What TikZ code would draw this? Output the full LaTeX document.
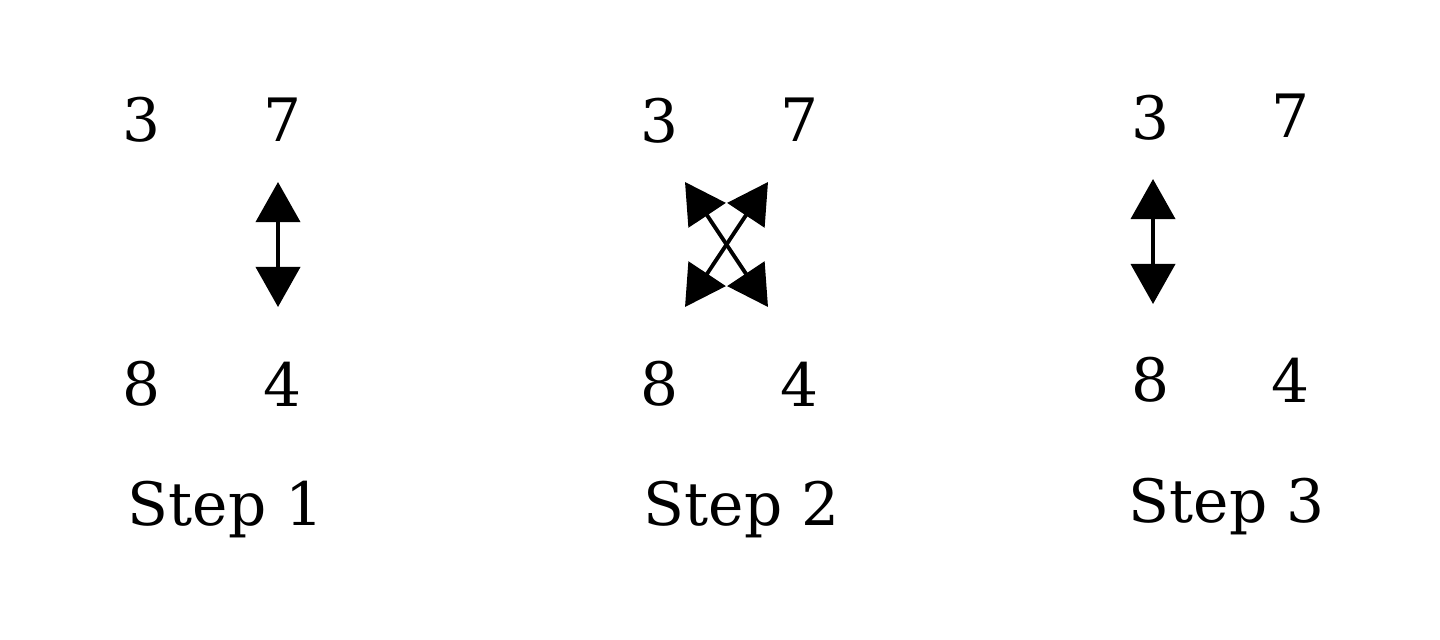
\documentclass[tikz,border=0pt]{standalone}
\usepackage{fontspec}
\setmainfont{DejaVu Serif}
\usetikzlibrary{arrows.meta}
\begin{document}
\begin{tikzpicture}[x=0.01cm,y=-0.01cm,
  num/.style={inner sep=0pt,font=\fontsize{17}{20}\selectfont},
  lab/.style={inner sep=0pt,anchor=base west,font=\fontsize{17}{20}\selectfont},
  swap/.style={line width=1.1pt,{Triangle[length=0.4cm,width=0.44cm]}-{Triangle[length=0.4cm,width=0.44cm]}}]
\useasboundingbox (0,0) rectangle (1440,639);
% Step 1
\node[num] (a3) at (142,120) {3};
\node[num] (a7) at (283,120) {7};
\node[num] (a8) at (142,384) {8};
\node[num] (a4) at (283,384) {4};
\node[lab] (s1) at (127,525) {Step 1};
\coordinate (a1t) at (278,182);
\coordinate (a1b) at (278,307);
\draw[swap] (a1t) -- (a1b);
% Step 2
\node[num] (b3) at (660,121) {3};
\node[num] (b7) at (800,120) {7};
\node[num] (b8) at (660,384) {8};
\node[num] (b4) at (800,384) {4};
\node[lab] (s2) at (643,525) {Step 2};
\coordinate (btl) at (685,182);
\coordinate (btr) at (768,182);
\coordinate (bbl) at (685,307);
\coordinate (bbr) at (768,307);
\draw[swap] (btl) -- (bbr);
\draw[swap] (btr) -- (bbl);
% Step 3
\node[num] (c3) at (1150,118) {3};
\node[num] (c7) at (1290,116) {7};
\node[num] (c8) at (1150,380) {8};
\node[num] (c4) at (1290,380) {4};
\node[lab] (s3) at (1128,522) {Step 3};
\coordinate (c1t) at (1153,179);
\coordinate (c1b) at (1153,304);
\draw[swap] (c1t) -- (c1b);
\end{tikzpicture}
\end{document}
